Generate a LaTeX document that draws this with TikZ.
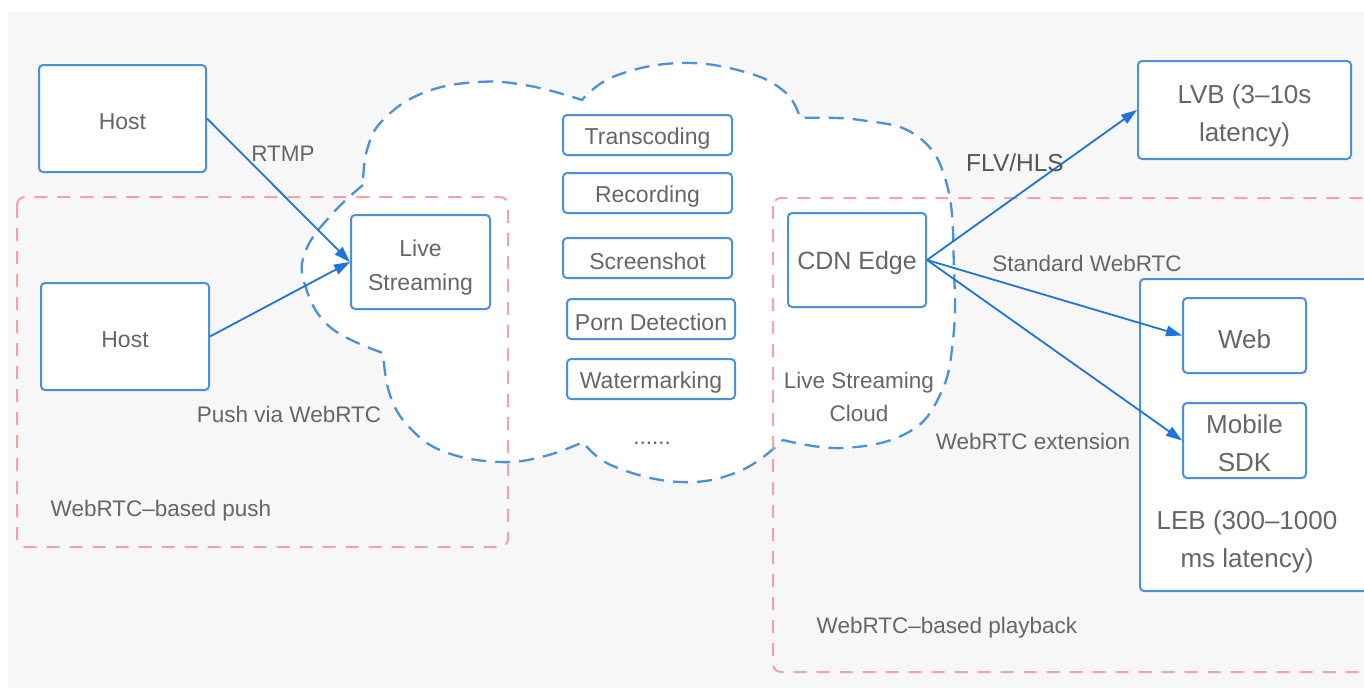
\documentclass[tikz,border=0pt]{standalone}
\usepackage{fontspec}
\setmainfont{Liberation Sans}
\usetikzlibrary{arrows.meta}
\definecolor{panel}{HTML}{F7F7F7}
\definecolor{boxblue}{HTML}{4A90DA}
\definecolor{arrblue}{HTML}{1E74D8}
\definecolor{pinkred}{HTML}{F0A3A8}
\definecolor{txt}{HTML}{666666}
\definecolor{txtdark}{HTML}{555555}
\begin{document}
\begin{tikzpicture}[x=1pt,y=-1pt,
  box/.style={draw=boxblue,line width=2pt,rounded corners=4pt,fill=white,inner sep=0pt,align=center,text=txt},
  low/.style={execute at begin node={\rule{0pt}{#1}}},
  fa/.style={font=\fontsize{23}{34}\selectfont},
  fb/.style={font=\fontsize{26}{38}\selectfont},
  lab/.style={text=txt,inner sep=0pt,font=\fontsize{22.5}{33}\selectfont,align=center},
  conn/.style={draw=arrblue,line width=1.8pt,-{Triangle[length=16pt,width=10.5pt]}},
  cloudline/.style={draw=boxblue,line width=2.3pt,dash pattern=on 15pt off 9pt,fill=white},
  region/.style={draw=pinkred,line width=2pt,dash pattern=on 13pt off 10pt,rounded corners=8pt}]
\useasboundingbox (0,0) rectangle (1364,688);
\fill[white] (0,0) rectangle (1364,688);
\fill[panel] (8,12) rectangle (1364,688);
% cloud
\path[cloudline] plot[smooth,tension=0.7] coordinates {(363,185) (333,213) (306,250) (305,285) (330,327) (383,353)}
 -- plot[smooth,tension=0.7] coordinates {(383,353) (390,395) (410,428) (445,452) (500,462) (545,456) (583,442)}
 -- plot[smooth,tension=0.7] coordinates {(583,442) (613,466) (680,482) (740,471) (783,440)}
 -- plot[smooth,tension=0.7] coordinates {(783,440) (843,448) (907,433) (940,395) (953,340) (954,270) (947,185) (917,136) (860,120) (800,118)}
 -- plot[smooth,tension=0.7] coordinates {(800,118) (785,92) (745,72) (680,63) (615,76) (582,100)}
 -- plot[smooth,tension=0.7] coordinates {(582,100) (530,86) (478,82) (423,93) (383,120) (367,150) (363,185)} -- cycle;
% regions
\draw[region] (17,197) rectangle (508,547);
\draw[region] (773,198) rectangle (1385,672);
% nodes
\node[box,fa,low=23pt,minimum width=167pt,minimum height=107pt] (host1) at (122.5,118.5) {Host};
\node[box,fa,low=23pt,minimum width=168pt,minimum height=107pt] (host2) at (125,336.5) {Host};
\node[box,fa,minimum width=139pt,minimum height=94pt] (live) at (420.5,262) {\rule{0pt}{27pt}Live\\Streaming};
\node[box,fa,low=23pt,minimum width=169pt,minimum height=40pt] (trans) at (647.5,135) {Transcoding};
\node[box,fa,low=23pt,minimum width=169pt,minimum height=40pt] (rec) at (647.5,193) {Recording};
\node[box,fa,low=23pt,minimum width=169pt,minimum height=40pt] (shot) at (647.5,258) {Screenshot};
\node[box,fa,low=23pt,minimum width=168pt,minimum height=40pt] (porn) at (651,319) {Porn Detection};
\node[box,fa,low=23pt,minimum width=168pt,minimum height=40pt] (water) at (651,379) {Watermarking};
\node[lab] (dots) at (652,443) {......};
\node[box,font=\fontsize{25}{36}\selectfont,low=25pt,minimum width=138pt,minimum height=94pt] (cdn) at (857,260) {CDN Edge};
\node[box,fb,minimum width=213pt,minimum height=98pt] (lvb) at (1244.5,110) {\rule{0pt}{30pt}LVB (3–10s\\latency)};
\node[box,anchor=north west,minimum width=246pt,minimum height=312pt] (leb) at (1139,278) {};
\node[box,fb,low=26pt,minimum width=123pt,minimum height=75pt] (web) at (1244.5,335.5) {Web};
\node[box,fb,minimum width=123pt,minimum height=75pt] (mobile) at (1244.5,440.5) {\rule{0pt}{24pt}Mobile\\SDK};
\node[lab,font=\fontsize{26}{38}\selectfont] (lebtxt) at (1247,542) {LEB (300–1000\\ms latency)};
% connectors
\draw[conn] (host1.east) -- (live.west);
\draw[conn] (host2.east) -- (live.west);
\draw[conn] (cdn.east) -- (lvb.west);
\draw[conn] (cdn.east) -- (web.west);
\draw[conn] (cdn.east) -- (mobile.west);
% labels
\node[lab] (rtmp) at (283,154) {RTMP};
\node[lab] (pushvia) at (289,414) {Push via WebRTC};
\node[lab] (pushreg) at (161,511) {WebRTC–based push};
\node[lab,text=txtdark,font=\fontsize{24.5}{34}\selectfont] (flv) at (1015,163) {FLV/HLS};
\node[lab] (std) at (1087,263) {Standard WebRTC};
\node[lab] (ext) at (1033,441) {WebRTC extension};
\node[lab] (cloudlab) at (859,397) {Live Streaming\\Cloud};
\node[lab] (playreg) at (947,628) {WebRTC–based playback};
\end{tikzpicture}
\end{document}
